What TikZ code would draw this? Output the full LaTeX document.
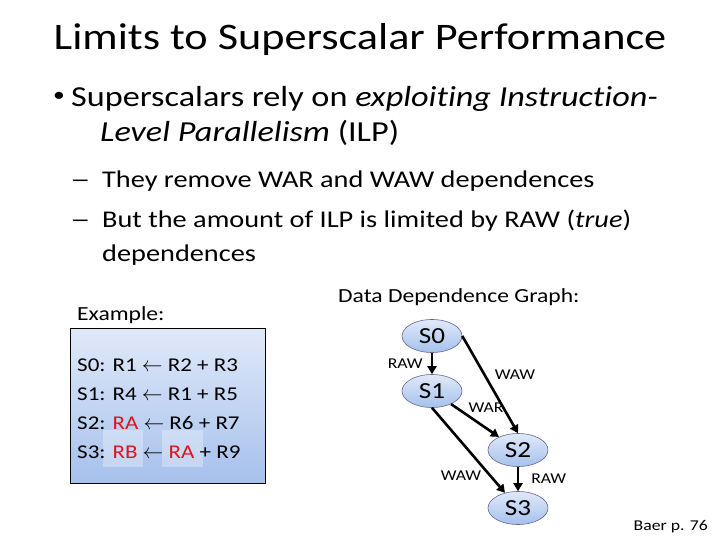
\documentclass[tikz,border=0pt]{standalone}
\usepackage{fontspec}
\usepackage{graphicx}
\setmainfont{Carlito}[FakeStretch=1.18, Ligatures={TeX,NoCommon}]
\usetikzlibrary{shapes.geometric, arrows.meta, positioning}

\definecolor{boxtop}{RGB}{224,233,249}
\definecolor{boxbottom}{RGB}{166,193,236}
\definecolor{codered}{RGB}{220,20,30}

\newcommand{\fsize}[1]{\fontsize{#1}{1.2\dimexpr #1pt\relax}\selectfont}
\newcommand{\hl}[1]{\textcolor{codered}{#1}}
\newcommand{\subdash}{\scalebox{1.45}[1]{--}}

\begin{document}
\begin{tikzpicture}[x=1pt, y=-1pt,
	txt/.style={anchor=base west, inner sep=0pt},
	stmt/.style={ellipse, draw=gray!80!blue, line width=0.6pt, top color=boxtop, bottom color=boxbottom,
		minimum width=60pt, minimum height=33pt, inner sep=0pt, font=\fsize{23}},
	dep/.style={line width=2.6pt, -{Triangle[length=8pt, width=9pt]}},
	deplabel/.style={font=\fsize{15}, inner sep=0pt}]
	\useasboundingbox (0,0) rectangle (720,540);

	\node[anchor=base, inner sep=0pt, font=\fsize{37.5}] (title) at (360,50) {Limits to Superscalar Performance};

	% bullets
	\node[txt, font=\fsize{20}] (b1) at (53,102) {\textbullet};
	\node[txt, font=\fsize{29}] (l1) at (71,107) {Superscalars rely on \textit{exploiting Instruction-}};
	\node[txt, font=\fsize{29}] (l2) at (100,142) {\textit{Level Parallelism} (ILP)};
	\node[txt, font=\fsize{24}] (d1) at (70,188) {\subdash};
	\node[txt, font=\fsize{24}] (s1) at (102,188) {They remove WAR and WAW dependences};
	\node[txt, font=\fsize{24}] (d2) at (70,228) {\subdash};
	\node[txt, font=\fsize{24}] (s2) at (102,228) {But the amount of ILP is limited by RAW (\textit{true})};
	\node[txt, font=\fsize{24}] (s3) at (102,261) {dependences};

	% example code
	\node[txt, font=\fsize{20}] (ex) at (77,320) {Example:};
	\draw[top color=boxtop, bottom color=boxbottom, draw=black, line width=0.8pt] (70,328) rectangle (265,483);
	\fill[white, opacity=0.3] (103,430) rectangle (143,467);
	\fill[white, opacity=0.3] (162,430) rectangle (203,467);
	\node[txt, font=\fsize{19.5}] (c0) at (77,371) {S0: R1 $\leftarrow$ R2 + R3};
	\node[txt, font=\fsize{19.5}] (c1) at (77,400) {S1: R4 $\leftarrow$ R1 + R5};
	\node[txt, font=\fsize{19.5}] (c2) at (77,429) {S2: \hl{RA} $\leftarrow$ R6 + R7};
	\node[txt, font=\fsize{19.5}] (c3) at (77,458) {S3: \hl{RB} $\leftarrow$ \hl{RA} + R9};

	% dependence graph
	\node[txt, font=\fsize{20}] (dg) at (338,302) {Data Dependence Graph:};
	\node[stmt] (S0) at (432,336) {S0};
	\node[stmt] (S1) at (432,391) {S1};
	\node[stmt] (S2) at (518,450) {S2};
	\node[stmt] (S3) at (518,508) {S3};

	\draw[dep] (S0) -- node[deplabel, midway, left=8pt] {RAW} (S1);
	\draw[dep] (S0.east) -- node[deplabel, pos=0.4, right=9pt] {WAW} (S2.north);
	\draw[dep] (S1) -- node[deplabel, pos=0.3, above right=0pt and 2pt] {WAR} (S2);
	\draw[dep] (S1.south) -- node[deplabel, pos=0.8, left=8pt] {WAW} (S3);
	\draw[dep] (S2) -- node[deplabel, midway, right=12pt] {RAW} (S3);

	\node[anchor=base east, inner sep=0pt, font=\fsize{15}] (ref) at (708,530) {Baer p. 76};
\end{tikzpicture}
\end{document}
